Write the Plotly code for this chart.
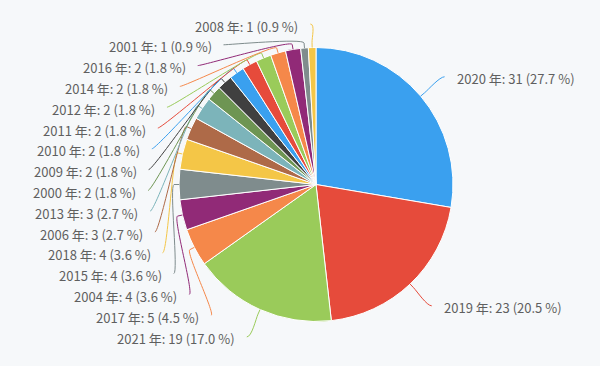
import math
import plotly.graph_objects as go

# ---- data ----
years = ["2020", "2019", "2021", "2017", "2004", "2015", "2018", "2006", "2013",
         "2000", "2009", "2010", "2011", "2012", "2014", "2016", "2001", "2008"]
counts = [31, 23, 19, 5, 4, 4, 4, 3, 3, 2, 2, 2, 2, 2, 2, 2, 1, 1]

# ---- style ----
palette = ["#3aa0ef", "#e64b3b", "#9acb5a", "#f5884a", "#912a77", "#7f8c8d",
           "#f4c647", "#ae6a48", "#7cb4ba", "#6e9553", "#404040"]
colors = [palette[i % len(palette)] for i in range(len(counts))]
BG = "#f6f8fa"
TXT = "#5f5f5f"
FONT = "Noto Sans CJK JP"

W, H = 600, 366
CX, CY, R = 316.0, 184.5, 137.0   # pie centre / radius in pixels
LR = 167.0                        # label circle radius
ROW = 20.8                        # label row height
TOP = 24.0                        # top bound for label centres
BOT = 352.0

total = sum(counts)
labels_txt = [f"{y} 年: {c} ({c / total * 100:.1f} %)" for y, c in zip(years, counts)]

# mid angles (clockwise from 12 o'clock)
mids = []
acc = 0
for c in counts:
    mids.append((acc + c / 2) / total * 2 * math.pi)
    acc += c


def px(a, rad):
    return CX + math.sin(a) * rad, CY - math.cos(a) * rad


def distribute(idx, ys):
    order = sorted(idx, key=lambda i: ys[i])
    clusters = []

    def place(cl):
        s = sum(ys[i] for i in cl) / len(cl) - (len(cl) - 1) * ROW / 2
        return max(TOP, min(s, BOT - (len(cl) - 1) * ROW))

    for i in order:
        clusters.append([i])
        while len(clusters) > 1:
            p, c = clusters[-2], clusters[-1]
            if place(p) + len(p) * ROW > place(c):
                clusters[-2] = p + c
                clusters.pop()
            else:
                break
    out = {}
    for cl in clusters:
        s = place(cl)
        for k, i in enumerate(cl):
            out[i] = s + k * ROW
    return out


natural = [px(a, LR)[1] for a in mids]
left = [i for i, a in enumerate(mids) if a > math.pi]
right = [i for i, a in enumerate(mids) if a <= math.pi]
placed = {}
placed.update(distribute(left, natural))
placed.update(distribute(right, natural))

shapes = []
annotations = []
for i, a in enumerate(mids):
    is_left = a > math.pi
    y = placed[i]
    yx = natural[i] if y < TOP + 2 else y
    dy = max(-1.0, min(1.0, (yx - CY) / LR))
    off = math.cos(math.asin(dy)) * LR + 1
    sgn = -1 if is_left else 1
    lx = CX + sgn * off
    tx, ty = px(a, R)
    bx, by = px(a, R + 5)
    c2x, c2y = 2 * bx - tx, 2 * by - ty
    c1x = lx + (5 if is_left else -5)
    path = (f"M {lx:.2f},{y:.2f} C {c1x:.2f},{y:.2f} {c2x:.2f},{c2y:.2f} "
            f"{bx:.2f},{by:.2f} L {tx:.2f},{ty:.2f}")
    shapes.append(dict(type="path", path=path, xref="x", yref="y",
                       line=dict(color=colors[i], width=1), layer="above"))
    annotations.append(dict(
        x=lx + sgn * 10, y=y + 2, xref="x", yref="y", text=labels_txt[i],
        showarrow=False, xanchor="right" if is_left else "left", yanchor="middle",
        font=dict(family=FONT, size=13, color=TXT)))

fig = go.Figure()
fig.add_trace(go.Pie(
    labels=years, values=counts, sort=False, direction="clockwise", rotation=0,
    marker=dict(colors=colors, line=dict(color="white", width=1)),
    textinfo="none", hoverinfo="label+value+percent",
    domain=dict(x=[(CX - R) / W, (CX + R) / W],
                y=[(H - CY - R) / H, (H - CY + R) / H]),
    showlegend=False))
fig.add_trace(go.Scatter(x=[], y=[], showlegend=False))

fig.update_layout(
    width=W, height=H, margin=dict(l=0, r=0, t=0, b=0),
    paper_bgcolor=BG, plot_bgcolor=BG,
    xaxis=dict(range=[0, W], visible=False, fixedrange=True),
    yaxis=dict(range=[H, 0], visible=False, fixedrange=True),
    shapes=shapes, annotations=annotations, showlegend=False)

fig.write_html("out.html",
               config={"displayModeBar": False},
               post_script="document.body.style.margin='0';"
                           "document.body.style.overflow='hidden';"
                           f"document.body.style.background='{BG}';")
